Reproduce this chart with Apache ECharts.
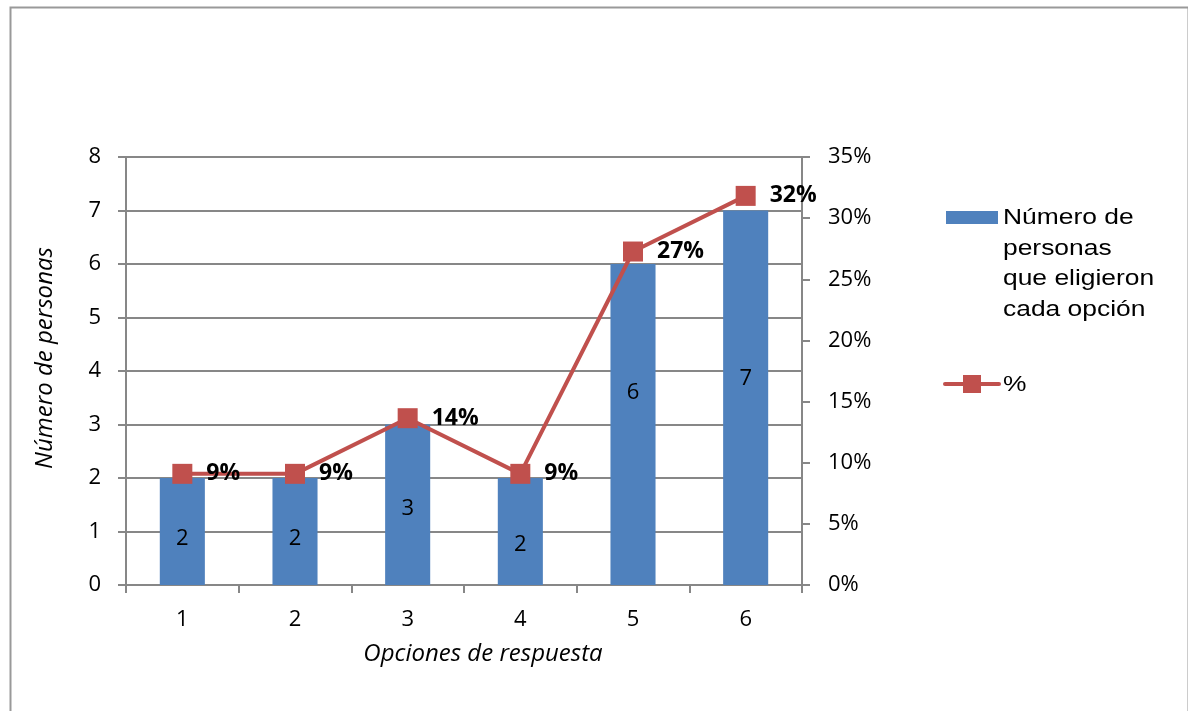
<!DOCTYPE html>
<html>
<head>
<meta charset="utf-8">
<script src="https://cdn.jsdelivr.net/npm/echarts@6/dist/echarts.min.js"></script>
<style>
  html, body { margin: 0; padding: 0; background: #fff; }
  #chart { width: 1188px; height: 711px; }
</style>
</head>
<body>
<div id="chart"></div>
<script>
// Respuestas por opción
const categories = ['1', '2', '3', '4', '5', '6'];
const personas = [2, 2, 3, 2, 6, 7];
const porcentaje = [0.0909, 0.0909, 0.1364, 0.0909, 0.2727, 0.3182];
const leftTicks = [0, 1, 2, 3, 4, 5, 6, 7, 8];
const rightTicks = [0, 0.05, 0.10, 0.15, 0.20, 0.25, 0.30, 0.35];
const barName = 'Número de personas que eligieron cada opción';
const barLegendLines = ['Número de', 'personas', 'que eligieron', 'cada opción'];
const lineName = '%';

// vertical nudge (px) of each value label inside its bar
const barLabelNudge = [7, 7, 4, 13, -32, -19];

const axisFont = '"Open Sans", Lato, sans-serif';
const legendFont = '"Liberation Sans", Arial, sans-serif';
const barColor = '#4F81BD';
const lineColor = '#C0504D';
const axisGray = '#878787';

const chart = echarts.init(document.getElementById('chart'));

chart.setOption({
  animation: false,
  backgroundColor: '#ffffff',
  grid: { left: 126, right: 386, top: 157, bottom: 126, containLabel: false },
  xAxis: {
    type: 'category',
    data: categories,
    name: 'Opciones de respuesta',
    nameLocation: 'middle',
    nameGap: 57,
    nameTextStyle: {
      fontFamily: axisFont, fontStyle: 'italic', fontSize: 24, color: '#000',
      padding: [0, 0, 0, 38]
    },
    axisLine: { lineStyle: { color: axisGray, width: 2 } },
    axisTick: { show: true, length: 8, lineStyle: { color: axisGray, width: 2 } },
    axisLabel: { fontFamily: axisFont, fontSize: 22, color: '#000', margin: 24 }
  },
  yAxis: [
    {
      type: 'value',
      min: leftTicks[0],
      max: leftTicks[leftTicks.length - 1],
      interval: 1,
      name: 'Número de personas',
      nameLocation: 'middle',
      nameGap: 69,
      nameTextStyle: {
        fontFamily: axisFont, fontStyle: 'italic', fontSize: 24, color: '#000',
        padding: [0, 0, 0, 26]
      },
      axisLine: { show: true, lineStyle: { color: axisGray, width: 2 } },
      axisTick: { show: true, length: 8, lineStyle: { color: axisGray, width: 2 } },
      axisLabel: { fontFamily: axisFont, fontSize: 22, color: '#000', margin: 25 },
      splitLine: { show: true, lineStyle: { color: axisGray, width: 2 } }
    },
    {
      type: 'value',
      min: rightTicks[0],
      max: rightTicks[rightTicks.length - 1],
      interval: 0.05,
      position: 'right',
      axisLine: { show: true, lineStyle: { color: axisGray, width: 2 } },
      axisTick: { show: true, length: 8, lineStyle: { color: axisGray, width: 2 } },
      axisLabel: {
        fontFamily: axisFont, fontSize: 22, color: '#000', margin: 26,
        formatter: v => Math.round(v * 100) + '%'
      },
      splitLine: { show: false }
    }
  ],
  series: [
    {
      name: barName,
      type: 'bar',
      data: personas.map((v, i) => ({
        value: v,
        label: { offset: [0, barLabelNudge[i]] }
      })),
      yAxisIndex: 0,
      barWidth: '40%',
      itemStyle: { color: barColor },
      label: {
        show: true, position: 'inside',
        fontFamily: axisFont, fontSize: 22, color: '#000'
      },
      z: 2
    },
    {
      name: lineName,
      type: 'line',
      data: porcentaje,
      yAxisIndex: 1,
      symbol: 'rect',
      symbolSize: 20,
      lineStyle: { color: lineColor, width: 4 },
      itemStyle: { color: lineColor },
      label: {
        show: true, position: 'right', distance: 14,
        fontFamily: axisFont, fontSize: 23, fontWeight: 'bold', color: '#000',
        formatter: p => Math.round(p.value * 100) + '%'
      },
      z: 3
    }
  ],
  graphic: [
    // outer frame
    {
      type: 'rect', left: 8, top: 5,
      shape: { width: 1178, height: 720 },
      style: { fill: 'none', stroke: '#999999', lineWidth: 2 }, silent: true
    },
    // legend: bars
    {
      type: 'rect', left: 946, top: 211,
      shape: { width: 52, height: 13 },
      style: { fill: barColor }
    },
    {
      type: 'text', x: 1003, y: 203, scaleX: 1.2,
      style: {
        text: barLegendLines.join('\n'),
        font: '22px ' + legendFont, fill: '#000', lineHeight: 30.5
      }
    },
    // legend: line
    {
      type: 'line',
      shape: { x1: 945, y1: 384, x2: 999, y2: 384 },
      style: { stroke: lineColor, lineWidth: 4, lineCap: 'round' }
    },
    {
      type: 'rect', left: 963, top: 375,
      shape: { width: 18, height: 18 },
      style: { fill: lineColor }
    },
    {
      type: 'text', x: 1003, y: 374, scaleX: 1.2,
      style: { text: lineName, font: '22px ' + legendFont, fill: '#000' }
    }
  ]
});
</script>
</body>
</html>
